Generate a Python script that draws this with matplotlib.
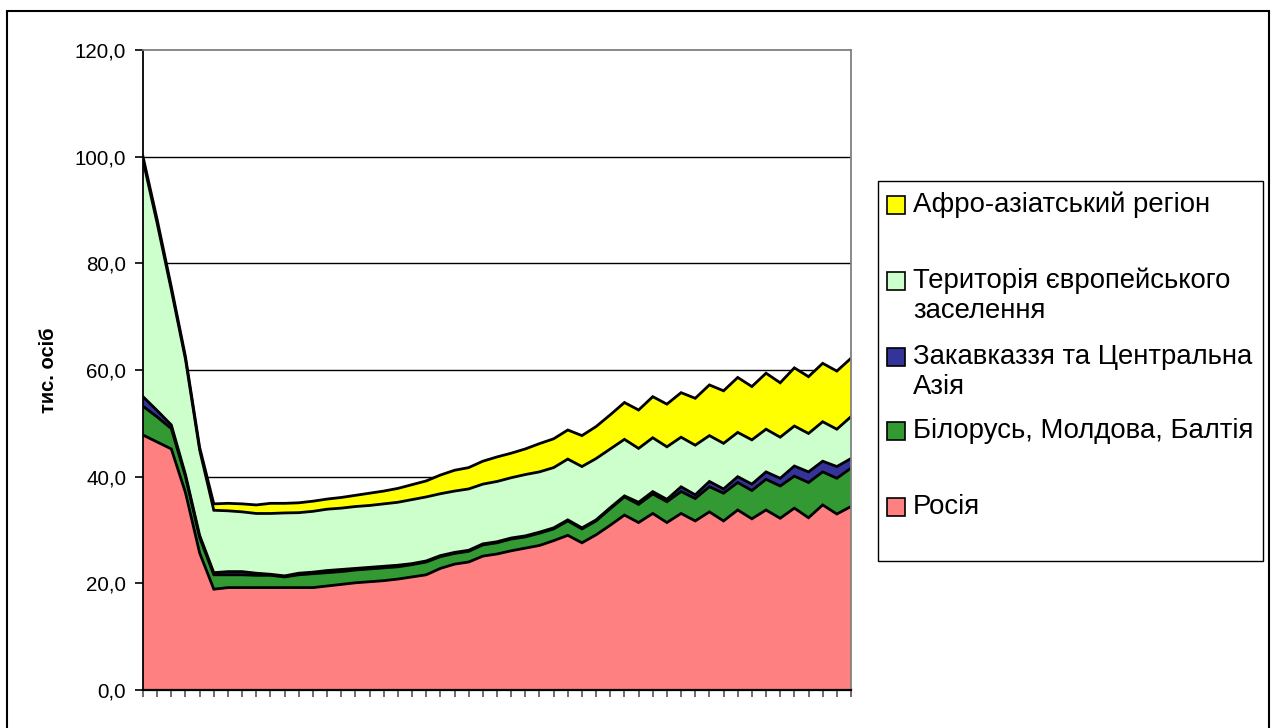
import matplotlib
matplotlib.use("Agg")
import matplotlib.pyplot as plt
from matplotlib.patches import Rectangle
import numpy as np

plt.rcParams['font.family'] = ['Liberation Sans', 'DejaVu Sans']

# ---- data (тис. осіб), 51 periods ----
russia = [47.8, 46.5, 45.2, 37.0, 25.7, 18.9, 19.2, 19.2, 19.2, 19.2,
          19.2, 19.2, 19.2, 19.5, 19.8, 20.1, 20.3, 20.5, 20.8, 21.2,
          21.6, 22.8, 23.6, 24.0, 25.1, 25.5, 26.1, 26.6, 27.1, 28.0,
          29.0, 27.6, 29.1, 30.9, 32.8, 31.4, 33.1, 31.4, 33.1, 31.7,
          33.4, 31.7, 33.75, 32.1, 33.75, 32.2, 34.1, 32.3, 34.7, 33.0, 34.4]
belarus_moldova_baltic = [5.4, 4.7, 3.8, 3.0, 2.9, 2.7, 2.4, 2.4, 2.3, 2.3,
                          2.0, 2.4, 2.6, 2.5, 2.4, 2.4, 2.4, 2.4, 2.3, 2.3,
                          2.4, 2.2, 2.0, 2.0, 2.1, 2.1, 2.2, 2.1, 2.3, 2.2,
                          2.7, 2.6, 2.6, 3.1, 3.4, 3.4, 3.65, 3.9, 4.1, 4.2,
                          4.7, 5.2, 5.15, 5.3, 5.75, 6.05, 6.0, 6.6, 6.2, 6.7, 7.2]
caucasus_central_asia = [1.8, 1.2, 0.7, 0.4, 0.4, 0.4, 0.6, 0.6, 0.4, 0.2,
                         0.2, 0.3, 0.3, 0.4, 0.4, 0.3, 0.3, 0.3, 0.3, 0.2,
                         0.2, 0.2, 0.2, 0.2, 0.2, 0.2, 0.2, 0.2, 0.2, 0.2,
                         0.2, 0.2, 0.2, 0.2, 0.2, 0.4, 0.45, 0.45, 0.9, 0.7,
                         1.0, 0.8, 1.1, 1.2, 1.4, 1.45, 1.9, 2.0, 2.0, 2.2, 1.8]
european_settlement = [44.3, 35.1, 25.3, 21.6, 16.0, 11.7, 11.4, 11.2, 11.2, 11.4,
                       11.8, 11.35, 11.4, 11.5, 11.5, 11.6, 11.6, 11.7, 11.8, 12.0,
                       12.0, 11.6, 11.5, 11.5, 11.2, 11.3, 11.3, 11.5, 11.3, 11.3,
                       11.4, 11.5, 11.5, 11.0, 10.6, 10.1, 10.1, 9.85, 9.3, 9.3,
                       8.6, 8.55, 8.3, 8.3, 8.0, 7.7, 7.5, 7.2, 7.4, 7.0, 7.85]
afro_asian = [0.7, 0.7, 0.6, 0.5, 0.5, 1.2, 1.4, 1.5, 1.6, 1.9,
              1.8, 1.85, 1.9, 1.9, 2.0, 2.1, 2.3, 2.4, 2.6, 2.8,
              3.0, 3.5, 3.9, 4.0, 4.3, 4.6, 4.6, 4.8, 5.3, 5.4,
              5.45, 5.8, 6.0, 6.4, 6.9, 7.2, 7.7, 8.0, 8.35, 8.8,
              9.5, 9.85, 10.3, 10.0, 10.5, 10.2, 10.9, 10.65, 10.95, 10.9, 10.95]

series_names = ["Росія", "Білорусь, Молдова, Балтія", "Закавказзя та Центральна\nАзія",
                "Територія європейського\nзаселення", "Афро-азіатський регіон"]
series_colors = ["#FF8080", "#339933", "#333399", "#CCFFCC", "#FFFF00"]
y_ticks = [0, 20, 40, 60, 80, 100, 120]
y_tick_labels = ["0,0", "20,0", "40,0", "60,0", "80,0", "100,0", "120,0"]
y_label = "тис. осіб"

W, H = 1277, 728
fig = plt.figure(figsize=(W / 100, H / 100), dpi=100)

def fx(px):
    return px / W

def fy(py):
    return 1 - py / H

ax = fig.add_axes([fx(143), fy(690), (851 - 143) / W, (690 - 50) / H])

data = [russia, belarus_moldova_baltic, caucasus_central_asia, european_settlement, afro_asian]
x = np.arange(len(russia))
bottom = np.zeros(len(x))
tops = []
for vals, col in zip(data, series_colors):
    top = bottom + np.array(vals)
    ax.fill_between(x, bottom, top, facecolor=col, edgecolor='none', zorder=2)
    tops.append(top)
    bottom = top
for top in tops:
    ax.plot(x, top, color='black', lw=2.0, zorder=3, solid_joinstyle='miter')

ax.set_xlim(0, len(x) - 1)
ax.set_ylim(0, 120)
ax.set_yticks(y_ticks)
ax.set_yticklabels(y_tick_labels, fontsize=14.8)
ax.set_xticks(x)
ax.set_xticklabels([])
ax.tick_params(axis='y', direction='out', length=6, width=1.2, color='black', pad=6)
ax.tick_params(axis='x', direction='out', length=5, width=1.2, color='#555555')

for yv in y_ticks[1:-1]:
    ax.axhline(yv, color='black', lw=1.0, zorder=1)

ax.spines['left'].set_color('black')
ax.spines['left'].set_linewidth(1.3)
ax.spines['bottom'].set_color('black')
ax.spines['bottom'].set_linewidth(1.6)
ax.spines['top'].set_color('#808080')
ax.spines['top'].set_linewidth(1.3)
ax.spines['right'].set_color('#808080')
ax.spines['right'].set_linewidth(1.3)
for s in ax.spines.values():
    s.set_zorder(4)

fig.text(fx(49), fy(370), y_label, rotation=90, ha='center', va='center',
         fontsize=14.5, fontweight='bold')

# outer chart border
fig.patches.append(Rectangle((fx(7), fy(745)), fx(1269) - fx(7), fy(11) - fy(745),
                             transform=fig.transFigure, fill=False,
                             edgecolor='black', lw=1.5))

# legend box
fig.patches.append(Rectangle((fx(878), fy(561)), fx(1263) - fx(878), fy(181) - fy(561),
                             transform=fig.transFigure, facecolor='white',
                             edgecolor='black', lw=1.0))

legend_rows = [  # (series index, patch centre y, text centre y)
    (4, 205, 205),
    (3, 281, 296),
    (2, 357, 372),
    (1, 431, 431),
    (0, 507, 507),
]
for idx, py, ty in legend_rows:
    fig.patches.append(Rectangle((fx(887), fy(py + 9)), fx(905) - fx(887), fy(py - 9) - fy(py + 9),
                                 transform=fig.transFigure, facecolor=series_colors[idx],
                                 edgecolor='black', lw=1.2))
    fig.text(fx(913), fy(ty), series_names[idx], ha='left', va='center',
             fontsize=19.8, linespacing=1.22)

fig.savefig("out.png", dpi=100)
